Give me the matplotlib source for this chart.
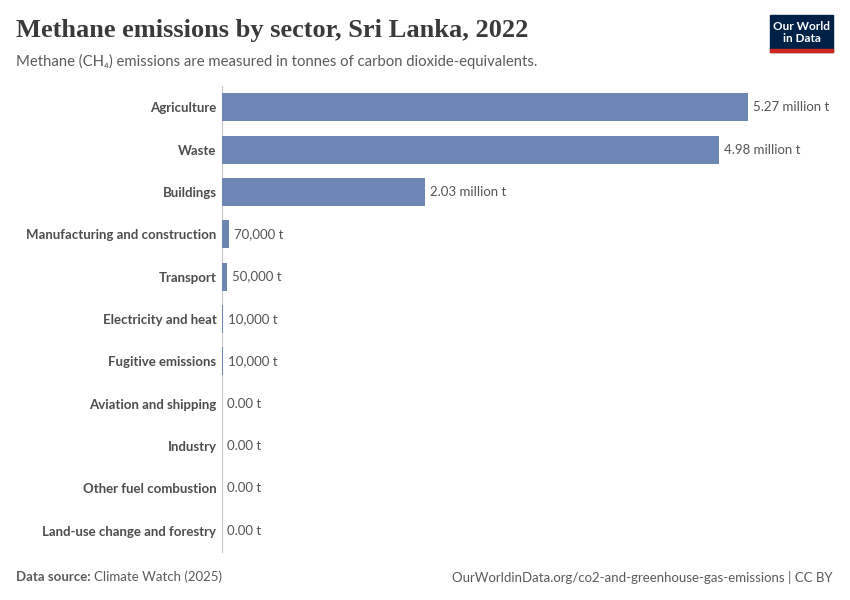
import matplotlib
matplotlib.use("Agg")
import matplotlib.pyplot as plt
from matplotlib.patches import Rectangle

sectors = [
    "Agriculture", "Waste", "Buildings", "Manufacturing and construction",
    "Transport", "Electricity and heat", "Fugitive emissions",
    "Aviation and shipping", "Industry", "Other fuel combustion",
    "Land-use change and forestry",
]
values = [5.27e6, 4.98e6, 2.03e6, 70000, 50000, 10000, 10000, 0, 0, 0, 0]
value_labels = [
    "5.27 million t", "4.98 million t", "2.03 million t", "70,000 t",
    "50,000 t", "10,000 t", "10,000 t", "0.00 t", "0.00 t", "0.00 t", "0.00 t",
]

FONT = ["Lato", "DejaVu Sans"]
plt.rcParams["font.family"] = FONT

W, H = 850, 600
fig = plt.figure(figsize=(W / 100, H / 100), dpi=100)

ax = fig.add_axes([222 / W, 48 / H, 526 / W, 466 / H])
y = list(range(len(sectors)))
ax.barh(y, values, height=0.66, color="#6D87B4", zorder=3)
ax.set_xlim(0, values[0])
ax.set_ylim(len(sectors) - 0.5, -0.5)
for s in ["top", "right", "bottom"]:
    ax.spines[s].set_visible(False)
ax.spines["left"].set_color("#c8c8c8")
ax.spines["left"].set_linewidth(0.8)
ax.spines["left"].set_zorder(1)
ax.set_xticks([])
ax.set_yticks(y)
ax.set_yticklabels(sectors, fontsize=9.5, color="#4d4d4d", fontweight="bold")
ax.tick_params(axis="y", length=0, pad=4)
for yi, v, lab in zip(y, values, value_labels):
    ax.text(v + values[0] * 0.01, yi, lab, va="center", ha="left",
            fontsize=9.5, color="#555555")

fig.text(16 / W, 1 - 31 / H, "Methane emissions by sector, Sri Lanka, 2022",
         family=["Liberation Serif", "DejaVu Serif"], fontsize=19,
         fontweight="bold", color="#3a3a3a", va="center", ha="left")
fig.text(16 / W, 1 - 61 / H,
         "Methane (CH\u2084) emissions are measured in tonnes of carbon dioxide-equivalents.",
         fontsize=10.7, color="#5b5b5b", va="center", ha="left")

# logo
fig.patches.append(Rectangle((770 / W, 1 - 52 / H), 63 / W, 37 / H,
                             transform=fig.transFigure, color="#002147"))
fig.patches.append(Rectangle((770 / W, 1 - 52 / H), 63 / W, 3 / H,
                             transform=fig.transFigure, color="#ce261e"))
fig.text(801.5 / W, 1 - 32.5 / H, "Our World\nin Data", fontsize=8.5,
         fontweight="bold", color="white", ha="center", va="center",
         linespacing=1.05)

fig.text(16 / W, 1 - 577 / H, "Data source:", fontsize=9.5, color="#5b5b5b",
         fontweight="bold", va="center", ha="left")
fig.text(94 / W, 1 - 577 / H, "Climate Watch (2025)", fontsize=9.5,
         color="#5b5b5b", va="center", ha="left")
fig.text(833 / W, 1 - 577 / H,
         "OurWorldinData.org/co2-and-greenhouse-gas-emissions | CC BY",
         fontsize=9.5, color="#5b5b5b", va="center", ha="right")

fig.savefig("out.png", dpi=100)
